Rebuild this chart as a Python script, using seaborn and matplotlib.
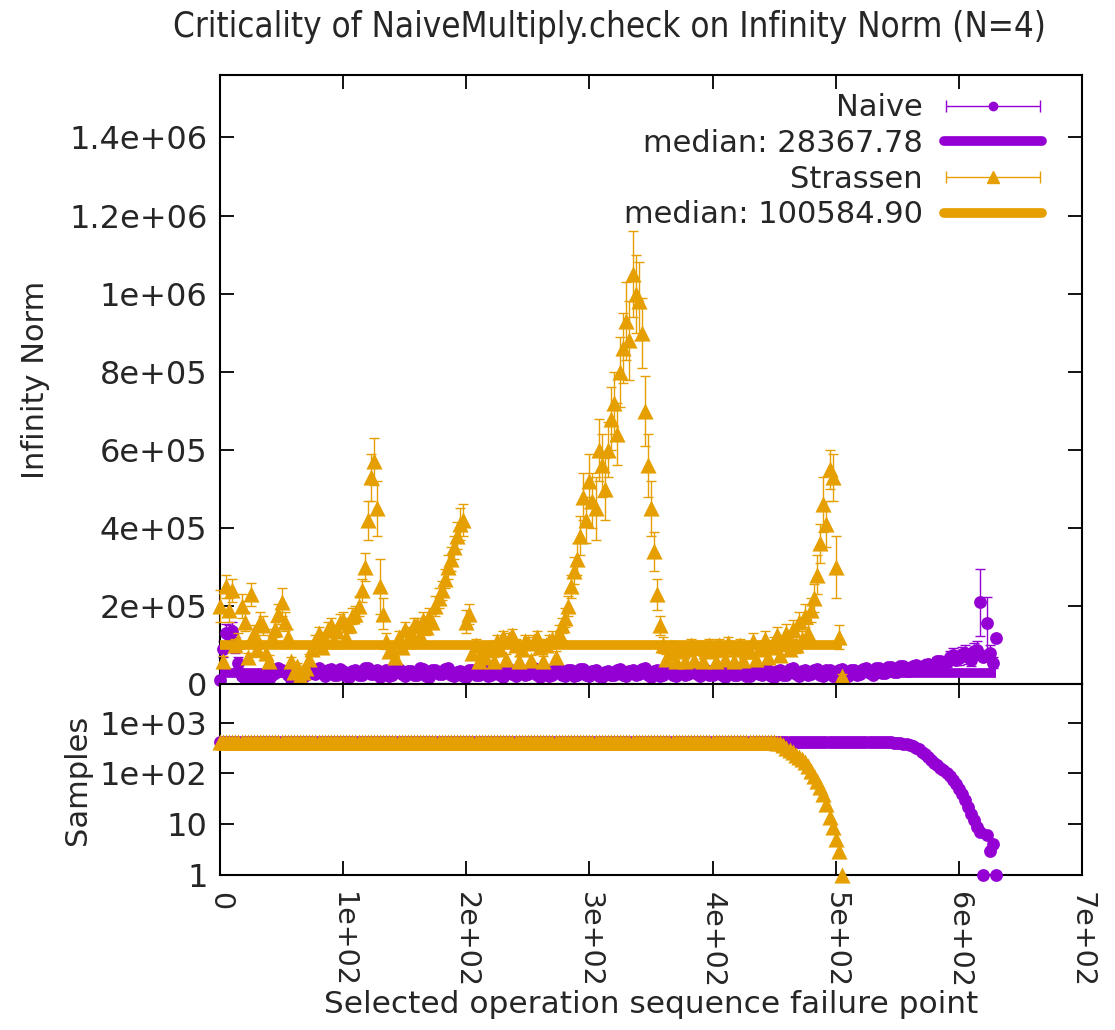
import numpy as np
import pandas as pd
import matplotlib
matplotlib.use("Agg")
import matplotlib.pyplot as plt
import seaborn as sns
from matplotlib.lines import Line2D
from matplotlib.container import ErrorbarContainer
from matplotlib.legend_handler import HandlerErrorbar
from matplotlib.ticker import FixedLocator, FuncFormatter, LogLocator, NullFormatter

# ---------------- data ----------------
TITLE = "Criticality of NaiveMultiply.check on Infinity Norm (N=4)"
XLABEL = "Selected operation sequence failure point"
YLABEL_TOP = "Infinity Norm"
YLABEL_BOTTOM = "Samples"

# Naive: failure point every 2.5 operations, 0 .. 630 (values in thousands)
naive_x = np.arange(0, 630.1, 2.5)
naive_val_k = [
    10, 90, 130, 125, 135, 100, 55, 20, 12, 6, 8, 15, 6, 9, 10, 14,
    14, 22, 28, 40, 36, 30, 22, 14, 8, 5, 12, 18, 22, 28, 32, 26,
    40, 28, 20, 35, 38, 22, 24, 39, 34, 21, 18, 33, 37, 24, 22, 40,
    40, 25, 26, 36, 19, 31, 35, 20, 23, 38, 39, 25, 20, 33, 34, 22,
    24, 40, 38, 21, 19, 35, 37, 26, 25, 39, 40, 22, 21, 30, 33, 20,
    18, 37, 36, 23, 24, 41, 40, 21, 22, 36, 35, 24, 19, 33, 38, 25,
    21, 36, 37, 22, 25, 39, 40, 24, 19, 32, 36, 21, 23, 39, 38, 24,
    20, 36, 35, 21, 24, 38, 39, 23, 21, 34, 36, 20, 18, 31, 34, 22,
    22, 36, 38, 23, 20, 33, 35, 24, 25, 39, 40, 22, 19, 34, 36, 21,
    23, 37, 38, 24, 21, 33, 34, 22, 26, 38, 39, 25, 20, 35, 37, 23,
    24, 38, 36, 22, 19, 34, 38, 23, 22, 36, 35, 21, 20, 37, 39, 25,
    24, 35, 36, 20, 18, 33, 37, 24, 23, 38, 40, 26, 21, 34, 35, 22,
    25, 37, 38, 24, 20, 35, 36, 21, 23, 37, 39, 25, 21, 35, 37, 24,
    26, 39, 40, 27, 24, 41, 42, 29, 28, 43, 44, 31, 30, 45, 46, 33,
    34, 47, 48, 36, 38, 50, 52, 40, 44, 58, 60, 50, 56, 70, 75, 62,
    66, 78, 80, 68, 62, 85, 88, 209, 70, 156, 80, 55, 117]
naive_err_k = [
    4, 20, 25, 25, 25, 20, 15, 6, 4, 3, 3, 4, 3, 3, 4, 4,
    5, 6, 8, 8, 8, 7, 6, 4, 3, 3, 4, 5, 6, 7, 8, 7,
    6, 5, 5, 6, 7, 5, 5, 7, 6, 5, 4, 6, 7, 5, 5, 7,
    7, 5, 5, 6, 4, 6, 6, 4, 5, 7, 7, 5, 4, 6, 6, 4,
    5, 7, 7, 4, 4, 6, 6, 5, 5, 7, 7, 4, 4, 6, 6, 4,
    4, 7, 6, 5, 5, 7, 7, 4, 4, 6, 6, 5, 4, 6, 7, 5,
    4, 6, 6, 4, 5, 7, 7, 5, 4, 6, 6, 4, 5, 7, 7, 5,
    4, 6, 6, 4, 5, 7, 7, 4, 4, 6, 6, 4, 4, 6, 6, 4,
    4, 6, 7, 5, 4, 6, 6, 5, 5, 7, 7, 4, 4, 6, 6, 4,
    5, 7, 7, 5, 4, 6, 6, 4, 5, 7, 7, 5, 4, 6, 6, 4,
    5, 7, 6, 4, 4, 6, 7, 4, 4, 6, 6, 4, 4, 7, 7, 5,
    5, 6, 6, 4, 4, 6, 7, 5, 4, 7, 7, 5, 4, 6, 6, 4,
    5, 7, 7, 5, 4, 6, 6, 4, 4, 7, 7, 5, 4, 6, 7, 5,
    5, 7, 7, 5, 5, 8, 8, 6, 6, 8, 8, 6, 6, 9, 9, 7,
    7, 9, 10, 8, 8, 10, 11, 9, 9, 12, 13, 11, 12, 15, 16, 14,
    16, 18, 20, 17, 15, 20, 22, 85, 0, 68, 20, 15, 0]
naive_samples = [420] * 216 + [
    415, 412, 408, 404, 398, 392, 383, 372, 358, 340,
    320, 296, 270, 240, 210, 185, 160, 145, 130, 115,
    100, 88, 75, 62, 50, 40, 30, 22, 16, 12,
    9, 7, 1, 6, 3, 4, 1]
naive_median = 28367.78

# Strassen: failure point every 2.5 operations, 0 .. 505 (values in thousands)
strassen_x = np.arange(0, 505.1, 2.5)
strassen_val_k = [
    200, 60, 250, 190,   240, 100, 110, 200,   160, 70, 230, 130,
    90, 160, 150, 80,    60, 120, 140, 180,    210, 160, 120, 60,
    30, 45, 20, 30,      40, 65, 90, 110,      130, 95, 115, 140,
    150, 110, 135, 160,  165, 120, 150, 175,   180, 200, 240, 300,
    420, 530, 570, 450,  250, 180, 110, 85,    90, 70, 120, 95,
    140, 110, 130, 150,  150, 125, 165, 145,   175, 160, 200, 220,
    240, 270, 300, 320,  350, 380, 410, 420,   160, 180, 80, 100,
    60, 85, 70, 90,      95, 58, 110, 90,      120, 65, 115, 125,
    100, 60, 90, 110,    105, 62, 110, 120,    95, 60, 100, 110,
    115, 70, 130, 150,   170, 200, 250, 290,   320, 380, 480, 420,
    520, 470, 450, 600,  560, 500, 600, 680,   720, 640, 800, 860,
    930, 880, 1050, 1000, 980, 900, 700, 560,  450, 340, 230, 150,
    100, 65, 80, 95,     60, 90, 85, 58,       90, 100, 62, 95,
    95, 60, 85, 100,     90, 58, 100, 90,      65, 105, 95, 60,
    90, 100, 62, 85,     85, 110, 65, 90,      95, 115, 70, 95,
    100, 125, 75, 105,   130, 90, 140, 100,    160, 115, 175, 130,
    190, 220, 280, 360,  460, 410, 550, 530,   300, 120, 20]
strassen_err_k = [
    40, 12, 30, 30,      30, 15, 20, 30,       25, 10, 30, 20,
    20, 25, 25, 15,      15, 20, 20, 25,       35, 25, 20, 10,
    10, 10, 8, 8,        10, 12, 15, 15,       15, 15, 15, 20,
    20, 15, 15, 20,      20, 15, 20, 20,       20, 25, 30, 35,
    50, 60, 60, 70,      70, 40, 20, 15,       15, 12, 15, 15,
    20, 15, 15, 20,      20, 15, 20, 20,       20, 20, 25, 25,
    25, 25, 30, 30,      30, 35, 40, 40,       30, 25, 15, 15,
    12, 12, 12, 15,      15, 12, 15, 15,       15, 12, 15, 15,
    15, 12, 15, 15,      15, 12, 15, 15,       15, 12, 15, 15,
    20, 15, 20, 20,      25, 25, 30, 35,       40, 50, 60, 60,
    70, 70, 80, 80,      80, 80, 70, 80,       80, 80, 90, 90,
    100, 100, 110, 100,  100, 90, 90, 80,      70, 50, 40, 25,
    20, 12, 15, 15,      12, 15, 15, 12,       15, 15, 12, 15,
    15, 12, 15, 15,      15, 12, 15, 15,       12, 15, 15, 12,
    15, 15, 12, 15,      15, 20, 12, 15,       15, 20, 12, 15,
    20, 20, 15, 20,      25, 15, 25, 20,       25, 20, 30, 25,
    30, 35, 50, 50,      70, 60, 50, 60,       80, 30, 5]
strassen_samples = [420] * 180 + [
    415, 405, 390, 360, 320, 290, 260, 235, 210, 190, 170, 140,
    110, 90, 70, 55, 40, 25, 14, 9, 5, 3, 1]
strassen_median = 100584.90

naive = pd.DataFrame({"x": naive_x, "val": np.array(naive_val_k) * 1e3,
                      "err": np.array(naive_err_k) * 1e3, "samples": naive_samples})
strassen = pd.DataFrame({"x": strassen_x, "val": np.array(strassen_val_k) * 1e3,
                         "err": np.array(strassen_err_k) * 1e3, "samples": strassen_samples})

PURPLE = "#9400d3"
ORANGE = "#e69f00"
FS = 22

# ---------------- figure ----------------
sns.set_theme(style="white")
plt.rcParams["font.family"] = ["DejaVu Sans"]

fig = plt.figure(figsize=(11.15, 10.30), dpi=100)
ax = fig.add_axes([0.1973, 0.3359, 0.7731, 0.5913])
ax2 = fig.add_axes([0.1973, 0.1505, 0.7731, 0.1854], sharex=ax)

series = [(naive, PURPLE, "o", 85, naive_median),
          (strassen, ORANGE, "^", 135, strassen_median)]

z = 2
for df, col, mk, size, med in series:
    ax.errorbar(df["x"], df["val"], yerr=df["err"], fmt="none", ecolor=col,
                elinewidth=1.0, capsize=3.5, capthick=1.0, zorder=z, clip_on=False)
    sns.scatterplot(data=df, x="x", y="val", marker=mk, s=size, color=col,
                    linewidth=0, ax=ax, zorder=z + 1, clip_on=False, legend=False)
    ax.hlines(med, df["x"].min(), df["x"].max(), color=col, lw=7, zorder=z + 2)
    sns.scatterplot(data=df, x="x", y="samples", marker=mk, s=size, color=col,
                    linewidth=0, ax=ax2, zorder=z + 1, clip_on=False, legend=False)
    z += 3

# ---------------- axes formatting ----------------
def gfmt(v, pos=None):
    if v == 0:
        return "0"
    s = f"{v:.1e}"
    mant, ex = s.split("e")
    if mant.endswith(".0"):
        mant = mant[:-2]
    return f"{mant}e{ex}"

ax.set_xlim(0, 700)
ax.set_ylim(0, 1.56e6)
ax.xaxis.set_major_locator(FixedLocator(np.arange(0, 701, 100)))
ax.yaxis.set_major_locator(FixedLocator(np.arange(0, 1.41e6, 2e5)))
ax.yaxis.set_major_formatter(FuncFormatter(gfmt))
ax.set_xlabel("")
ax.set_ylabel(YLABEL_TOP, fontsize=FS)
ax.yaxis.set_label_coords(-0.197, 0.5)

ax2.set_yscale("log")
ax2.set_ylim(1, 10 ** 3.76)
ax2.yaxis.set_major_locator(FixedLocator([1, 10, 100, 1000]))
ax2.yaxis.set_major_formatter(FuncFormatter(
    lambda v, p: {1: "1", 10: "10", 100: "1e+02", 1000: "1e+03"}.get(int(round(v)), "")))
ax2.yaxis.set_minor_locator(LogLocator(base=10, subs=np.arange(2, 10)))
ax2.yaxis.set_minor_formatter(NullFormatter())
ax2.xaxis.set_major_formatter(FuncFormatter(gfmt))
ax2.set_xlabel(XLABEL, fontsize=22.5)
ax2.set_ylabel(YLABEL_BOTTOM, fontsize=FS)
ax2.yaxis.set_label_coords(-0.148, 0.5)
ax2.xaxis.set_label_coords(0.5, -0.60)

for a in (ax, ax2):
    for sp in a.spines.values():
        sp.set_visible(True)
        sp.set_color("black")
        sp.set_linewidth(1.5)
    a.tick_params(which="major", direction="in", length=10, width=1.3, color="black",
                  top=True, bottom=True, left=True, right=True)
    a.tick_params(which="minor", direction="in", length=5, width=1.0, color="black",
                  left=True, right=True)
    a.tick_params(axis="y", labelsize=23, pad=9)
    a.grid(False)
    a.set_facecolor("white")

ax.tick_params(labelbottom=False)
ax2.tick_params(axis="x", labelrotation=-90, pad=12, labelsize=20.5)
for t in ax2.get_xticklabels():
    t.set_va("top")
    t.set_ha("center")

# ---------------- legend ----------------
hN = ax.errorbar([np.nan], [np.nan], xerr=[1], fmt="o", color=PURPLE, ms=6,
                 elinewidth=1, capsize=4, capthick=1)
hS = ax.errorbar([np.nan], [np.nan], xerr=[1], fmt="^", color=ORANGE, ms=8,
                 elinewidth=1, capsize=4, capthick=1)
handles = [hN, Line2D([], [], color=PURPLE, lw=7), hS, Line2D([], [], color=ORANGE, lw=7)]
labels = ["Naive", f"median: {naive_median:.2f}", "Strassen", f"median: {strassen_median:.2f}"]
leg = ax.legend(handles, labels, loc="upper right", bbox_to_anchor=(0.9675, 0.99),
                markerfirst=False, frameon=False, borderaxespad=0.0,
                fontsize=FS, handlelength=3.2, handletextpad=0.7, labelspacing=0.22,
                numpoints=1,
                handler_map={ErrorbarContainer: HandlerErrorbar(xerr_size=1.55)})
for vp in leg._legend_handle_box.get_children():
    vp.align = "right"

fig.text(0.547, 0.974, TITLE, ha="center", va="center", fontsize=25,
         fontstretch="condensed")

fig.savefig("out.png", dpi=100, facecolor="white")
